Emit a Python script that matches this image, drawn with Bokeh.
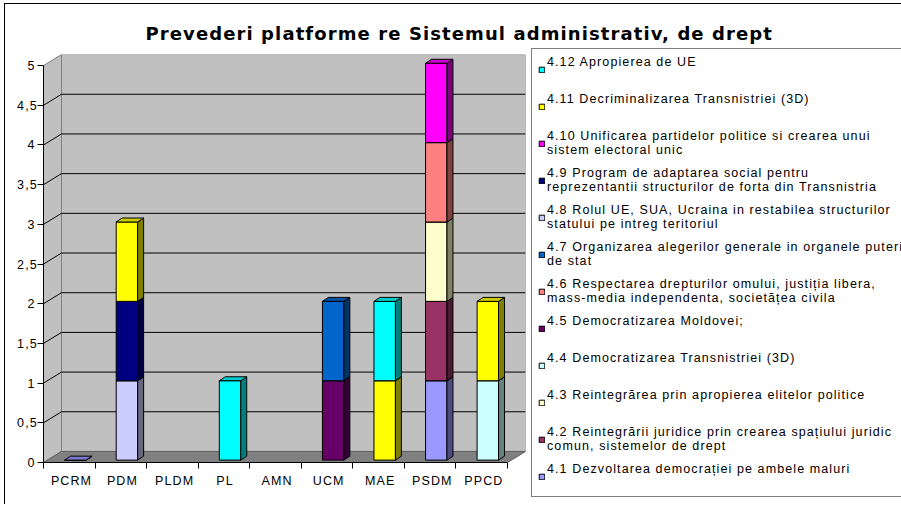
from bokeh.plotting import figure
from bokeh.models import ColumnDataSource, FixedTicker, Legend, LegendItem, Title, Range1d
from bokeh.embed import file_html
from bokeh.resources import INLINE

# ---------------- data ----------------
categories = ["PCRM", "PDM", "PLDM", "PL", "AMN", "UCM", "MAE", "PSDM", "PPCD"]

series_labels = [
    "4.1 Dezvoltarea democrației pe ambele maluri",
    "4.2 Reintegrării juridice prin crearea spațiului juridic\ncomun, sistemelor de drept",
    "4.3 Reintegrărea prin apropierea elitelor politice",
    "4.4 Democratizarea Transnistriei (3D)",
    "4.5 Democratizarea Moldovei;",
    "4.6 Respectarea drepturilor omului, justiția libera,\nmass-media independenta, societățea civila",
    "4.7 Organizarea alegerilor generale in organele puterii\nde stat",
    "4.8 Rolul UE, SUA, Ucraina in restabilea structurilor\nstatului pe intreg teritoriul",
    "4.9 Program de adaptarea social pentru\nreprezentantii structurilor de forta din Transnistria",
    "4.10 Unificarea partidelor politice si crearea unui\nsistem electoral unic",
    "4.11 Decriminalizarea Transnistriei (3D)",
    "4.12 Apropierea de UE",
]

series_colors = ["#9999FF", "#993366", "#FFFFCC", "#CCFFFF", "#660066", "#FF8080",
                 "#0066CC", "#CCCCFF", "#000080", "#FF00FF", "#FFFF00", "#00FFFF"]

#        PCRM  PDM   PLDM  PL    AMN   UCM   MAE   PSDM  PPCD
s4_1  = [0,    None, None, None, None, None, None, 1,    None]
s4_2  = [None, None, None, None, None, None, None, 1,    None]
s4_3  = [None, None, None, None, None, None, None, 1,    None]
s4_4  = [None, None, None, None, None, None, None, None, 1]
s4_5  = [None, None, None, None, None, 1,    None, None, None]
s4_6  = [None, None, None, None, None, None, None, 1,    None]
s4_7  = [None, None, None, None, None, 1,    None, None, None]
s4_8  = [None, 1,    None, None, None, None, None, None, None]
s4_9  = [None, 1,    None, None, None, None, None, None, None]
s4_10 = [None, None, None, None, None, None, None, 1,    None]
s4_11 = [None, 1,    None, None, None, None, 1,    None, 1]
s4_12 = [None, None, None, 1,    None, None, 1,    None, None]
series_values = [s4_1, s4_2, s4_3, s4_4, s4_5, s4_6, s4_7, s4_8, s4_9, s4_10, s4_11, s4_12]

y_ticks = [0, 0.5, 1, 1.5, 2, 2.5, 3, 3.5, 4, 4.5, 5]
y_tick_labels = ["0", "0,5", "1", "1,5", "2", "2,5", "3", "3,5", "4", "4,5", "5"]

title_text = "Prevederi platforme re Sistemul administrativ, de drept"

# ---------------- style / geometry ----------------
FONT = "Liberation Sans"
FS = "12.5px"
N = len(categories)
YMAX = y_ticks[-1]
DX, DY = 0.349, 0.139          # depth of the 3D walls (data units)
BL, BR = 0.41, 0.826           # bar front face inside its category
BDX, BDY = 0.116, 0.05         # depth of bar
BE = 0.03                      # bar front offset above floor


def shade(hexcol, f):
    h = hexcol.lstrip("#")
    r, g, b = (int(h[i:i + 2], 16) for i in (0, 2, 4))
    return "#%02x%02x%02x" % (int(r * f), int(g * f), int(b * f))


p = figure(frame_width=482, frame_height=408,
           x_range=Range1d(0, N + DX), y_range=Range1d(0, YMAX + 0.14),
           output_backend="svg", toolbar_location=None, title=None,
           min_border_left=38, min_border_right=376, min_border_top=50, min_border_bottom=42,
           background_fill_color="white", border_fill_color="white", outline_line_color=None)
p.styles = {"margin-left": "4px", "margin-top": "3px",
            "border-left": "1px solid #000000", "border-top": "1px solid #000000",
            "letter-spacing": "1.1px"}
p.xgrid.visible = False
p.ygrid.visible = False

# walls and floor
p.quad(left=[DX], right=[N + DX], bottom=[DY], top=[YMAX + DY],
       fill_color="#C0C0C0", line_color="#808080", line_width=1)
p.patch(x=[0, DX, DX, 0], y=[0, DY, YMAX + DY, YMAX],
        fill_color="#C0C0C0", line_color="#808080", line_width=1)
p.patch(x=[0, N, N + DX, DX], y=[0, 0, DY, DY],
        fill_color="#808080", line_color="#606060", line_width=1)
grid_vals = y_ticks[1:-1]
p.segment(x0=[DX] * len(grid_vals), y0=[v + DY for v in grid_vals],
          x1=[N + DX] * len(grid_vals), y1=[v + DY for v in grid_vals],
          line_color="#000000", line_width=1)
p.segment(x0=[0] * len(grid_vals), y0=grid_vals,
          x1=[DX] * len(grid_vals), y1=[v + DY for v in grid_vals],
          line_color="#000000", line_width=1)

# stacked 3D bars
bottoms = [0.0] * N
fronts = []
for vals, col in zip(series_values, series_colors):
    fl, fr, fb, ft = [], [], [], []
    sx, sy, tx, ty = [], [], [], []
    for c, v in enumerate(vals):
        if v is None:
            continue
        b = bottoms[c]
        t = b + v
        bottoms[c] = t
        L, R = c + BL, c + BR
        fl.append(L); fr.append(R); fb.append(b + BE); ft.append(t + BE)
        sx.append([R, R + BDX, R + BDX, R])
        sy.append([b + BE, b + BE + BDY, t + BE + BDY, t + BE])
        tx.append([L, R, R + BDX, L + BDX])
        ty.append([t + BE, t + BE, t + BE + BDY, t + BE + BDY])
    r = p.quad(source=ColumnDataSource(dict(left=fl, right=fr, bottom=fb, top=ft)),
               left="left", right="right", bottom="bottom", top="top",
               fill_color=col, line_color="#000000", line_width=1)
    p.patches(xs=sx, ys=sy, fill_color=shade(col, 0.5), line_color="#000000", line_width=1)
    p.patches(xs=tx, ys=ty, fill_color=shade(col, 0.8), line_color="#000000", line_width=1)
    fronts.append(r)

# axes
xa = p.xaxis[0]
xa.ticker = FixedTicker(ticks=[i + 0.5 for i in range(N)], minor_ticks=list(range(N + 1)))
xa.major_label_overrides = {i + 0.5: c for i, c in enumerate(categories)}
xa.bounds = (0, N)
xa.axis_line_color = "#000000"
xa.major_tick_line_color = None
xa.major_tick_in = 0
xa.major_tick_out = 6
xa.minor_tick_line_color = "#000000"
xa.minor_tick_in = 0
xa.minor_tick_out = 6
xa.major_label_standoff = 5
xa.major_label_text_font = FONT
xa.major_label_text_font_size = FS
xa.major_label_text_color = "#000000"

ya = p.yaxis[0]
ya.ticker = FixedTicker(ticks=y_ticks)
ya.major_label_overrides = dict(zip(y_ticks, y_tick_labels))
ya.bounds = (0, YMAX)
ya.axis_line_color = "#000000"
ya.major_tick_line_color = "#000000"
ya.major_tick_in = 0
ya.major_tick_out = 6
ya.minor_tick_line_color = None
ya.major_label_standoff = 3
ya.major_label_text_font = FONT
ya.major_label_text_font_size = FS
ya.major_label_text_color = "#000000"

# title
p.add_layout(Title(text=title_text, align="left", offset=102, standoff=22,
                   text_font="DejaVu Sans", text_font_style="bold", text_font_size="18px",
                   text_color="#000000"), "above")

# legend (top entry = last series); every entry gets a two-line slot, text at the top
def slot_label(s):
    return s if "\n" in s else s + "\n\u00a0"

legend = Legend(items=[LegendItem(label=slot_label(series_labels[i]), renderers=[fronts[i]])
                       for i in reversed(range(len(series_labels)))],
                location=(6, -35), orientation="vertical",
                border_line_color="#000000", border_line_width=1,
                background_fill_color="white", background_fill_alpha=1.0,
                padding=6, spacing=9, margin=0, label_standoff=2,
                glyph_width=7, glyph_height=7, label_height=28, label_width=350,
                label_text_font=FONT, label_text_font_size=FS,
                label_text_line_height=1.12, label_text_color="#000000")
p.add_layout(legend, "right")

open("out.html", "w").write(file_html(p, INLINE))
